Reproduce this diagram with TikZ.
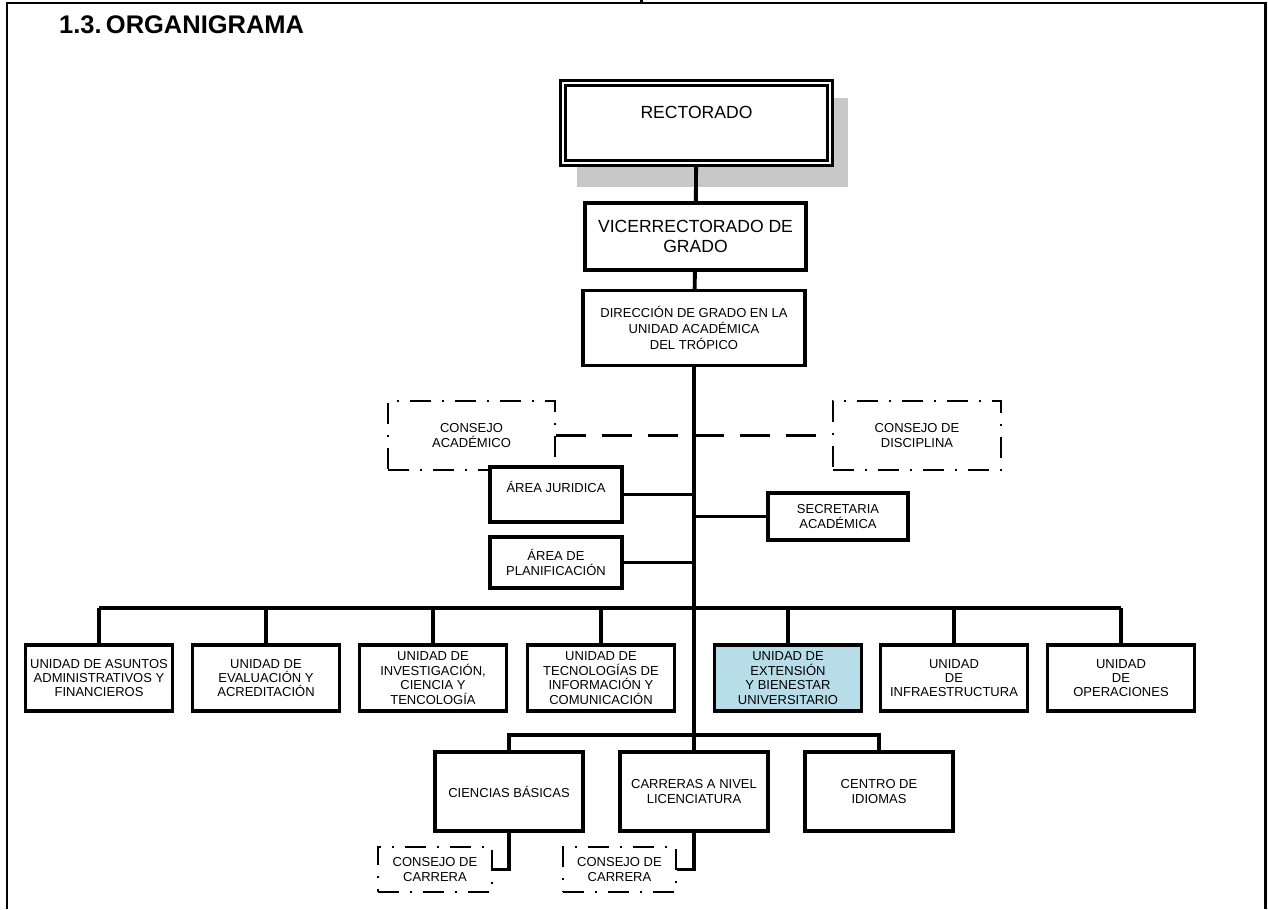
\documentclass[tikz,border=0pt]{standalone}
\usepackage{fontspec}
\setmainfont{Liberation Sans}
\definecolor{ext_blue}{RGB}{182,221,232}
\definecolor{shade_gray}{RGB}{200,200,200}

\begin{document}
\begin{tikzpicture}[
  x=0.2mm, y=-0.2mm,
  box/.style={draw=black, line width=1.9pt, fill=white, align=center, inner sep=1pt, font=\fontsize{7.4}{9}\selectfont},
  head_box/.style={box, font=\fontsize{10}{11.5}\selectfont},
  unit_box/.style={box, minimum width=29.4mm, minimum height=13.2mm, font=\fontsize{7.4}{8.2}\selectfont},
  career_box/.style={box, minimum width=29.6mm, minimum height=15.8mm},
  council_box/.style={draw=black, line width=1.6pt, align=center, inner sep=1pt, font=\fontsize{7.4}{9}\selectfont, dash pattern=on 4.2mm off 2.2mm on 0.4mm off 2.2mm},
  conn_line/.style={draw=black, line width=1.8pt},
  trunk_line/.style={draw=black, line width=2.2pt},
  conn_dashed/.style={draw=black, line width=1.9pt, dash pattern=on 6mm off 3.2mm},
  frame_line/.style={draw=black, line width=1.7pt}
]
\useasboundingbox (0,0) rectangle (1268,909);

% Page frame
\draw[frame_line] (7,909) -- (7,3) -- (1265,3) -- (1265,909);
\draw[frame_line] (641,0) -- (641,3);

% Title
\node[anchor=west, font=\fontsize{14.5}{16}\selectfont\bfseries] (title) at (53,25) {1.3.\,ORGANIGRAMA};

% Top of the chart
\fill[shade_gray] (577,98) rectangle (848,187);
\node[head_box, double, line width=0.55mm, double distance=0.4mm, minimum width=53.4mm, minimum height=16mm, text height=2.6mm, text depth=4.5mm] (rect) at (696.5,123) {RECTORADO};
\node[head_box, minimum width=44.2mm, minimum height=13.4mm] (vice) at (695.5,236.5) {VICERRECTORADO DE\\GRADO};
\node[box, minimum width=44.4mm, minimum height=15mm] (dir) at (694,328) {DIRECCIÓN DE GRADO EN LA\\UNIDAD ACADÉMICA\\DEL TRÓPICO};

% Councils
\node[council_box, minimum width=33.4mm, minimum height=13.8mm] (cacad) at (471.5,435.5) {CONSEJO\\ACADÉMICO};
\node[council_box, minimum width=33.6mm, minimum height=13.8mm] (cdisc) at (917,435.5) {CONSEJO DE\\DISCIPLINA};

% Staff boxes
\node[box, minimum width=26.4mm, minimum height=11mm, text height=2mm, text depth=2.8mm] (ajur) at (556,494.5) {ÁREA JURIDICA};
\node[box, minimum width=26.4mm, minimum height=10.2mm] (aplan) at (556,562.5) {ÁREA DE\\PLANIFICACIÓN};
\node[box, minimum width=28mm, minimum height=9.4mm] (secr) at (838,516.5) {SECRETARIA\\ACADÉMICA};

% Units row
\node[unit_box] (u1) at (99,678) {UNIDAD DE ASUNTOS\\ADMINISTRATIVOS Y\\FINANCIEROS};
\node[unit_box] (u2) at (266,678) {UNIDAD DE\\EVALUACIÓN Y\\ACREDITACIÓN};
\node[unit_box] (u3) at (433,678) {UNIDAD DE\\INVESTIGACIÓN,\\CIENCIA Y\\TENCOLOGÍA};
\node[unit_box] (u4) at (601,678) {UNIDAD DE\\TECNOLOGÍAS DE\\INFORMACIÓN Y\\COMUNICACIÓN};
\node[unit_box, fill=ext_blue] (u5) at (788,678) {UNIDAD DE\\EXTENSIÓN\\Y BIENESTAR\\UNIVERSITARIO};
\node[unit_box] (u6) at (954,678) {UNIDAD\\DE\\INFRAESTRUCTURA};
\node[unit_box] (u7) at (1121,678) {UNIDAD\\DE\\OPERACIONES};

% Careers row
\node[career_box] (cien) at (509,791.5) {CIENCIAS BÁSICAS};
\node[career_box] (carr) at (694,791.5) {CARRERAS A NIVEL\\LICENCIATURA};
\node[career_box] (cent) at (879,791.5) {CENTRO DE\\IDIOMAS};

% Career councils
\node[council_box, minimum width=22.8mm, minimum height=9mm] (cc1) at (435,869.5) {CONSEJO DE\\CARRERA};
\node[council_box, minimum width=22.6mm, minimum height=9mm] (cc2) at (619.5,869.5) {CONSEJO DE\\CARRERA};

\coordinate (bus) at (694,608);
\coordinate (lowbus) at (694,735);

% --- Connections ---
\draw[trunk_line] (rect) -- (vice);
\draw[trunk_line] (vice) -- (dir);
\draw[trunk_line] (dir.south) -- (carr.north);
\draw[conn_dashed] (cacad.east) -- (cdisc.west);

\draw[conn_line] (ajur.east) -- (ajur.east -| dir.south);
\draw[conn_line] (aplan.east) -- (aplan.east -| dir.south);
\draw[conn_line] (secr.west) -- (secr.west -| dir.south);

\draw[conn_line] (u1.north |- bus) -- (u7.north |- bus);
\foreach \i in {1,...,7} {
  \draw[conn_line] (u\i.north) -- (u\i.north |- bus);
}

\draw[conn_line] (cien.north) |- (lowbus) -| (cent.north);

\draw[conn_line] (cien.south) |- (cc1.east);
\draw[conn_line] (carr.south) |- (cc2.east);

\end{tikzpicture}
\end{document}
